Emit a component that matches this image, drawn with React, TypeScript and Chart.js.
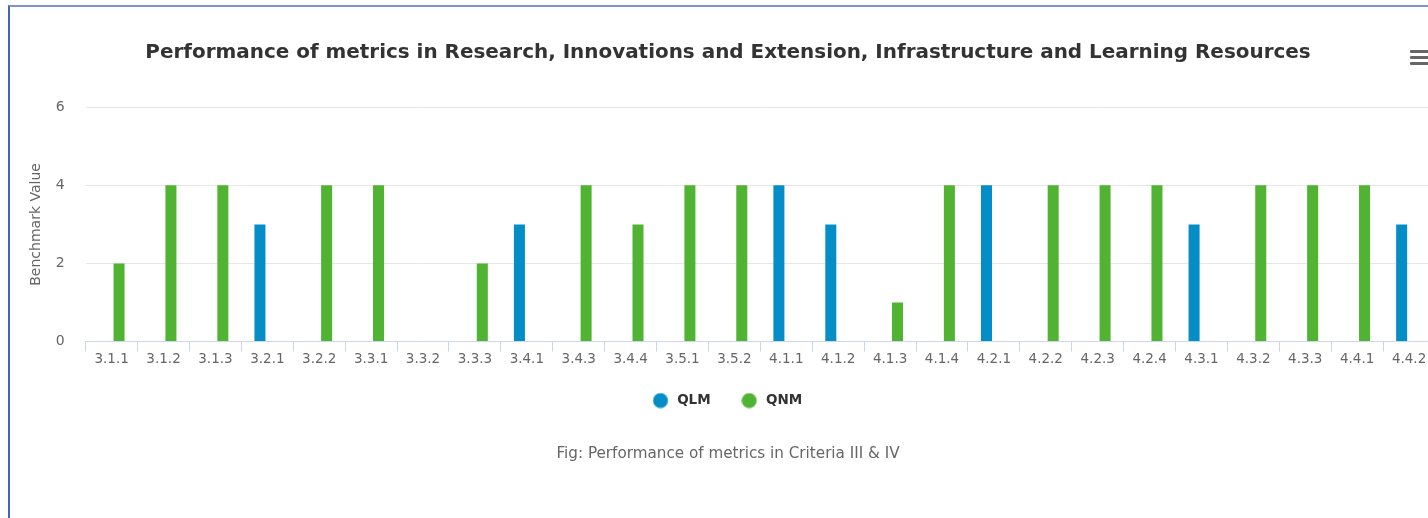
import React, { useEffect, useRef } from "react";
import { Chart, registerables } from "chart.js";

Chart.register(...registerables);

const categories = [
  "3.1.1", "3.1.2", "3.1.3", "3.2.1", "3.2.2", "3.3.1", "3.3.2", "3.3.3", "3.4.1",
  "3.4.3", "3.4.4", "3.5.1", "3.5.2", "4.1.1", "4.1.2", "4.1.3", "4.1.4", "4.2.1",
  "4.2.2", "4.2.3", "4.2.4", "4.3.1", "4.3.2", "4.3.3", "4.4.1", "4.4.2",
];

const qlmValues = [
  null, null, null, 3, null, null, null, null, 3,
  null, null, null, null, 4, 3, null, null, 4,
  null, null, null, 3, null, null, null, 3,
];

const qnmValues = [
  2, 4, 4, null, 4, 4, null, 2, null,
  4, 3, 4, 4, null, null, 1, 4, null,
  4, 4, 4, null, 4, 4, 4, null,
];

const yTicks = [0, 2, 4, 6];

const seriesNames = ["QLM", "QNM"];
const seriesColors = ["#058DC7", "#50B432"];

const titleText =
  "Performance of metrics in Research, Innovations and Extension, Infrastructure and Learning Resources";
const captionText = "Fig: Performance of metrics in Criteria III & IV";
const yAxisTitle = "Benchmark Value";

const FONT = "'DejaVu Sans', 'Lucida Grande', sans-serif";

function legendDot(color: string): HTMLCanvasElement {
  const c = document.createElement("canvas");
  c.width = 22;
  c.height = 16;
  const ctx = c.getContext("2d");
  if (ctx) {
    ctx.fillStyle = color;
    ctx.beginPath();
    ctx.arc(7.8, 8, 7.5, 0, Math.PI * 2);
    ctx.fill();
  }
  return c;
}

const legendShift = {
  id: "legendShift",
  afterLayout(chart: any) {
    const lg = chart.legend;
    if (lg) {
      lg.left += 1.5;
      lg.right += 1.5;
      lg.top -= 9;
      lg.bottom -= 9;
    }
  },
};

export default function App() {
  const canvasRef = useRef<HTMLCanvasElement | null>(null);

  useEffect(() => {
    if (!canvasRef.current) return;
    const chart = new Chart(canvasRef.current, {
      type: "bar",
      data: {
        labels: categories,
        datasets: [
          {
            label: seriesNames[0],
            data: qlmValues,
            backgroundColor: seriesColors[0],
            borderWidth: 0,
            categoryPercentage: 0.57,
            barPercentage: 0.745,
            pointStyle: legendDot(seriesColors[0]),
          } as any,
          {
            label: seriesNames[1],
            data: qnmValues,
            backgroundColor: seriesColors[1],
            borderWidth: 0,
            categoryPercentage: 0.57,
            barPercentage: 0.745,
            pointStyle: legendDot(seriesColors[1]),
          } as any,
        ],
      },
      plugins: [legendShift],
      options: {
        responsive: false,
        animation: false,
        devicePixelRatio: 1,
        layout: { padding: { left: 11, right: 11, top: 0, bottom: 0 } },
        plugins: {
          tooltip: { enabled: false },
          title: {
            display: true,
            text: titleText,
            color: "#333333",
            font: { family: FONT, size: 19.95, weight: "bold" },
            padding: { top: 34.1, bottom: 42.2 },
          },
          legend: {
            position: "bottom",
            labels: {
              usePointStyle: true,
              boxWidth: 13.5,
              boxHeight: 13.5,
              padding: 35,
              color: "#333333",
              font: { family: FONT, size: 13.5, weight: "bold" },
            },
          },
          subtitle: {
            display: true,
            position: "bottom",
            text: captionText,
            color: "#666666",
            font: { family: FONT, size: 15.2, weight: "normal" },
            padding: { top: 18.6, bottom: 54.86 },
          },
        },
        scales: {
          x: {
            offset: true,
            grid: {
              offset: true,
              drawOnChartArea: false,
              drawTicks: true,
              tickLength: 10,
              color: "#ccd6eb",
              lineWidth: 1,
            },
            border: { color: "#ccd6eb", width: 1 },
            ticks: {
              color: "#666666",
              font: { family: FONT, size: 13.5 },
              padding: 0,
              maxRotation: 0,
              autoSkip: false,
            },
          },
          y: {
            min: 0,
            max: 6,
            afterBuildTicks: (scale: any) => {
              scale.ticks = yTicks.map((v) => ({ value: v }));
            },
            afterFit: (scale: any) => {
              scale.width = 64.7;
            },
            grid: { color: "#e6e6e6", drawTicks: false, lineWidth: 1 },
            border: { display: false },
            ticks: {
              color: "#666666",
              font: { family: FONT, size: 14 },
              padding: 21,
            },
            title: {
              display: true,
              text: yAxisTitle,
              color: "#666666",
              font: { family: FONT, size: 14 },
              padding: { top: 7.3, bottom: 0 },
            },
          },
        },
      },
    });
    return () => chart.destroy();
  }, []);

  return (
    <div
      style={{
        position: "fixed",
        left: 0,
        top: 0,
        width: "100vw",
        height: "100vh",
        overflow: "hidden",
        background: "#ffffff",
      }}
    >
      <div
        style={{
          position: "absolute",
          left: 8,
          top: 5,
          width: 1440,
          height: 560,
          borderLeft: "2px solid #4264c6",
          borderTop: "2px solid #7d95cc",
        }}
      >
        <canvas
          ref={canvasRef}
          width={1436}
          height={511}
          style={{ display: "block", width: 1436, height: 511 }}
        />
        <div style={{ position: "absolute", left: 1400, top: 43, width: 20 }}>
          {[0, 1, 2].map((i) => (
            <div
              key={i}
              style={{
                position: "absolute",
                left: 0,
                top: i * 6,
                width: 20,
                height: 3,
                background: "#666666",
                borderRadius: 1,
              }}
            />
          ))}
        </div>
      </div>
    </div>
  );
}
